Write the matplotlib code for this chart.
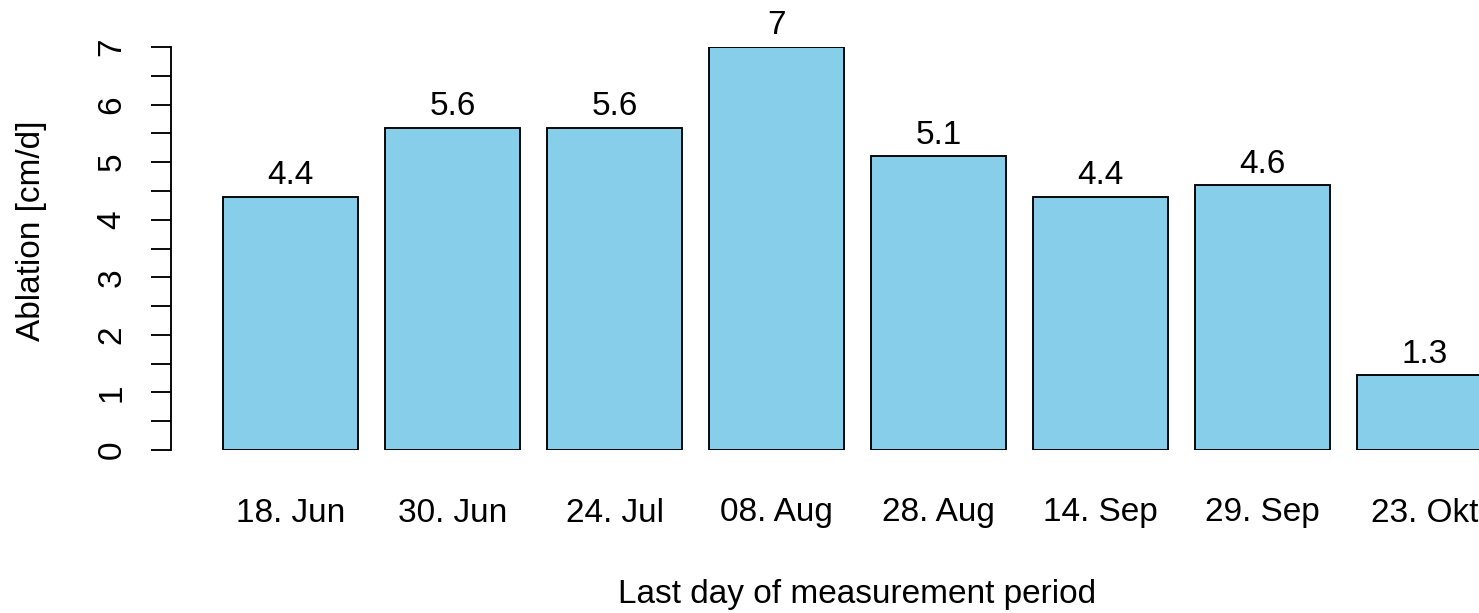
import matplotlib
matplotlib.use("Agg")
import matplotlib.pyplot as plt
from matplotlib.ticker import MultipleLocator

plt.rcParams['font.family'] = ['Liberation Sans', 'DejaVu Sans']

periods = ["18. Jun", "30. Jun", "24. Jul", "08. Aug", "28. Aug", "14. Sep", "29. Sep", "23. Okt"]
ablation = [4.4, 5.6, 5.6, 7.0, 5.1, 4.4, 4.6, 1.3]
value_labels = ["4.4", "5.6", "5.6", "7", "5.1", "4.4", "4.6", "1.3"]

W, H = 1479, 613
fig = plt.figure(figsize=(W / 100, H / 100), dpi=100)

# axes box in pixels: left edge = y-axis line, bottom = 0, top = 7
ax_left, ax_right = 171, 1479
ax_bottom_px, ax_top_px = 450, 47
ax = fig.add_axes([ax_left / W, (H - ax_bottom_px) / H,
                   (ax_right - ax_left) / W, (ax_bottom_px - ax_top_px) / H])

# bar spacing: 162 px per bar, first bar centre at x=290.5 px
step = 162.0
c0 = 290.5
ax.set_xlim((ax_left - c0) / step, (ax_right - c0) / step)
ax.set_ylim(0, 7)

lw = 1.35
xs = list(range(len(ablation)))
ax.bar(xs, ablation, width=1 / 1.2, color="#87CEEB", edgecolor="black", linewidth=lw)

fs = 24
for x, v, lab in zip(xs, ablation, value_labels):
    ax.annotate(lab, (x, v), xytext=(0, 4), textcoords="offset points",
                ha="center", va="bottom", fontsize=fs, clip_on=False,
                annotation_clip=False)

for x, lab in zip(xs, periods):
    ax.annotate(lab, (x, 0), xytext=(0, -63 * 0.72), textcoords="offset points",
                ha="center", va="center", fontsize=fs, annotation_clip=False)

for s in ["top", "right", "bottom"]:
    ax.spines[s].set_visible(False)
ax.spines["left"].set_linewidth(lw)
ax.set_xticks([])
ax.yaxis.set_major_locator(MultipleLocator(1))
ax.yaxis.set_minor_locator(MultipleLocator(0.5))
ax.tick_params(axis="y", which="both", length=14.4, width=lw, direction="out")
ax.tick_params(axis="y", which="major", labelsize=fs, pad=17)
ax.set_yticks(range(8))
ax.set_yticklabels([str(i) for i in range(8)], rotation=90, va="center")

fig.text(857 / W, 1 - 594 / H, "Last day of measurement period", ha="center", va="center", fontsize=fs)
fig.text(32 / W, 1 - 231 / H, "Ablation [cm/d]", ha="center", va="center", rotation=90, fontsize=fs)

fig.savefig("out.png", dpi=100)
